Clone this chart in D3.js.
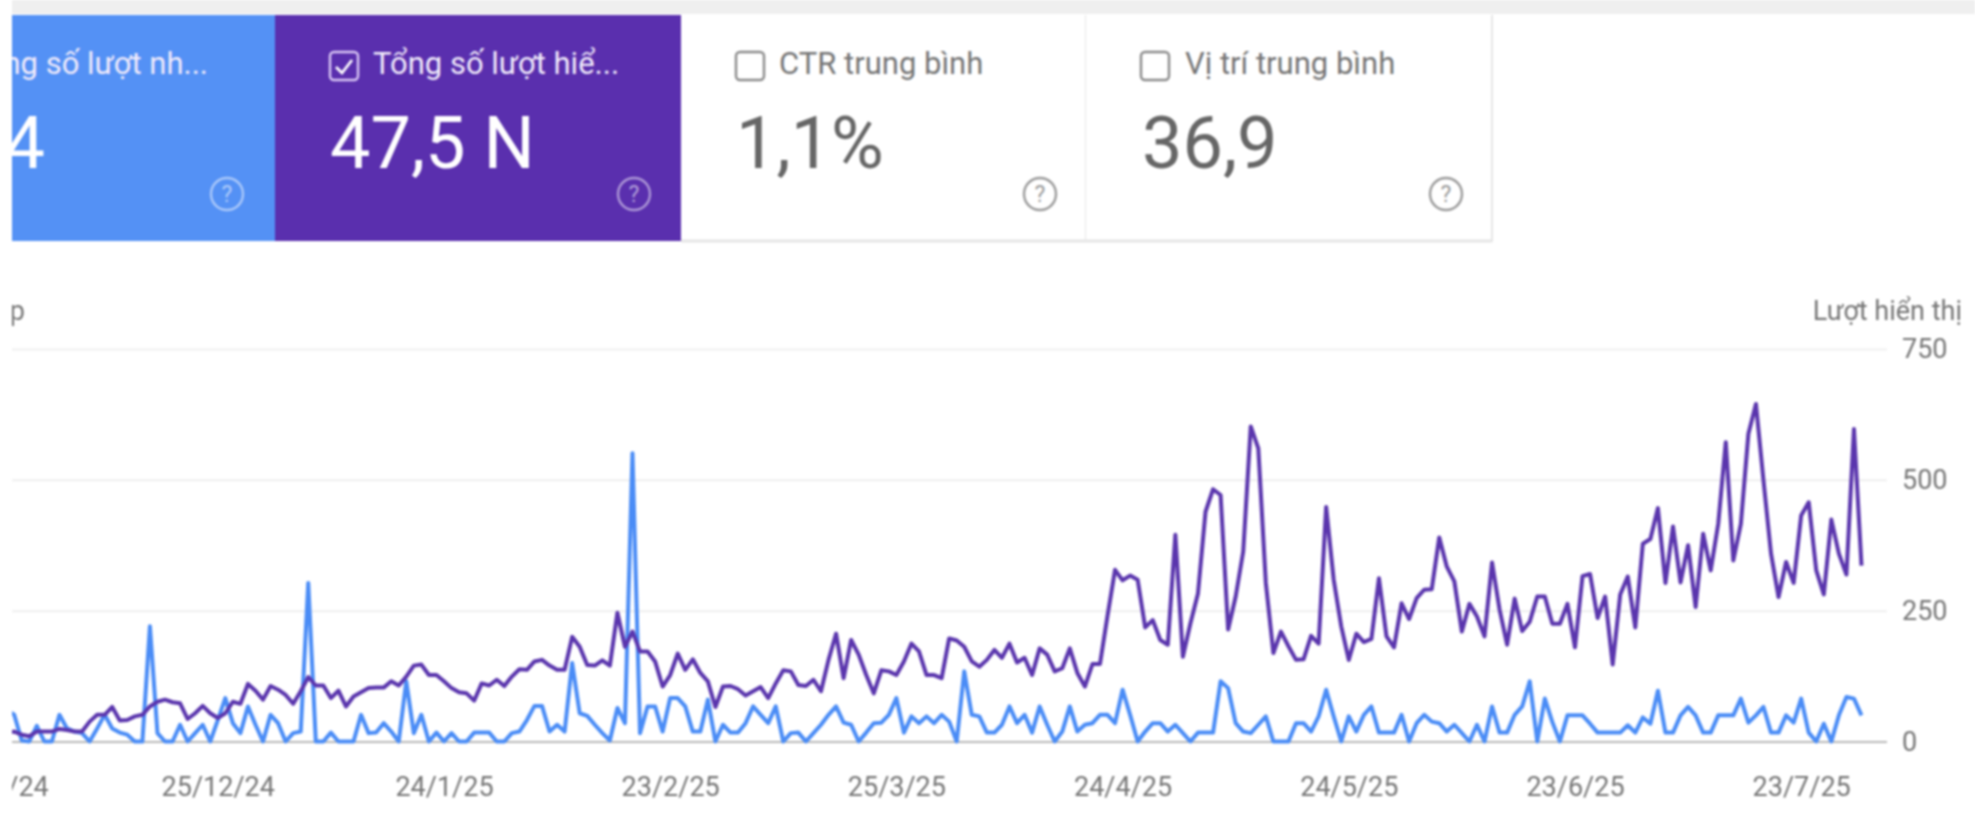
<!DOCTYPE html>
<html>
<head>
<meta charset="utf-8">
<script src="https://cdn.jsdelivr.net/npm/d3@7/dist/d3.min.js"></script>
<style>
html,body{margin:0;padding:0;background:#fff;overflow:hidden}
svg{display:block;font-family:Roboto,sans-serif;filter:blur(1px)}
</style>
</head>
<body>
<svg id="chart" width="1975" height="822"></svg>
<script>
const cardLabels = ["Tổng số lượt nh...", "Tổng số lượt hiể...", "CTR trung bình", "Vị trí trung bình"];
const cardValues = ["4", "47,5 N", "1,1%", "36,9"];
const cardChecked = [true, true, false, false];
const yTicks = [0, 250, 500, 750];
const xTickLabels = ["25/11/24","25/12/24","24/1/25","23/2/25","25/3/25","24/4/25","24/5/25","23/6/25","23/7/25"];
const firstDay = "27/11/24";
const rightAxisTitle = "Lượt hiển thị";
const leftAxisTitle = "Lượt nhấp";

const clicks = [
60,51,2,0,30,0,0,51,25,19,
16,0,25,51,25,17,13,0,0,220,
16,0,0,32,0,16,32,0,41,83,
35,16,67,32,0,51,35,0,16,19,
303,0,0,17,0,0,0,51,16,17,
35,19,0,115,16,51,0,17,0,16,
0,0,17,17,17,0,0,16,19,41,
68,68,19,32,19,150,54,49,32,16,
2,64,35,551,16,67,67,19,83,83,
67,19,19,80,0,32,17,17,35,67,
51,35,67,0,16,17,0,16,32,51,
67,36,32,0,17,35,36,51,83,17,
48,35,48,35,51,38,0,134,51,48,
17,17,32,67,35,51,17,67,32,0,
19,67,19,32,35,51,51,35,99,51,
0,19,35,35,19,32,16,0,17,17,
17,115,102,35,19,16,32,48,0,0,
0,35,35,19,48,99,48,0,48,19,
51,67,17,17,17,51,0,35,51,38,
35,19,32,16,0,32,0,67,17,17,
51,67,115,0,82,37,0,50,50,50,
34,17,17,17,17,31,17,46,34,97,
17,17,50,66,50,17,17,50,50,50,
82,36,50,66,17,17,50,36,82,17,
0,34,0,50,85,82,50];

const impressions = [
16,19,13,10,19,19,19,24,22,19,
19,38,51,51,66,40,41,48,51,67,
76,80,75,73,43,54,68,54,45,54,
76,72,110,97,80,106,99,89,72,96,
123,107,107,83,97,67,86,94,102,103,
103,115,107,124,145,147,127,127,115,102,
94,92,78,111,107,118,106,124,138,137,
153,156,145,137,137,200,181,146,145,155,
145,246,181,210,172,172,153,105,127,168,
137,157,131,115,66,105,106,100,88,96,
104,83,111,136,134,108,106,118,96,156,
206,121,194,166,127,92,136,134,127,153,
187,172,127,127,121,197,193,181,153,143,
156,175,160,187,151,160,127,178,166,134,
140,178,131,105,148,148,240,328,308,317,
309,218,232,194,185,395,162,226,283,439,
482,471,214,277,363,602,560,303,169,210,
182,156,157,202,187,448,309,220,156,206,
190,196,312,201,180,264,234,274,290,291,
390,334,306,210,263,239,201,342,252,185,
273,211,229,277,277,225,225,263,180,316,
320,236,277,147,281,315,218,378,387,446,
303,411,304,375,257,397,327,416,572,346,
416,588,645,499,359,276,343,303,432,457,
327,281,424,359,319,597,336];

const parseDay = d3.utcParse("%d/%m/%y");
const days = clicks.map((_, i) => d3.utcDay.offset(parseDay(firstDay), i));
const x = d3.scaleUtc().domain([days[0], days[days.length - 1]]).range([6.66, 1861.5]);
const y = d3.scaleLinear().domain([0, 750]).range([741.5, 349]);

const svg = d3.select("#chart");
const defs = svg.append("defs");
defs.append("clipPath").attr("id", "page").append("rect")
  .attr("x", 12).attr("y", 0).attr("width", 1963).attr("height", 822);

// top strip of the page behind the cards
svg.append("rect").attr("x", 0).attr("y", 0).attr("width", 1975).attr("height", 14).attr("fill", "#efefef");
svg.append("rect").attr("x", 0).attr("y", 0).attr("width", 12).attr("height", 822).attr("fill", "#fff");

const root = svg.append("g").attr("clip-path", "url(#page)");

// metric cards
const cardEdges = [-140, 275, 681, 1086, 1492];
const cardFill = ["#5491f5", "#5a2fae", "#fff", "#fff"];
const textX = [208, 373, 779, 1185];
const boxX = [-60, 330, 736, 1141];
const valX = [45, 330, 736, 1142];
const helpX = [227, 634, 1040, 1446];
const cards = root.append("g");
cardLabels.forEach((label, i) => {
  const on = cardChecked[i];
  const g = cards.append("g");
  g.append("rect").attr("x", cardEdges[i]).attr("y", 15)
    .attr("width", cardEdges[i + 1] - cardEdges[i]).attr("height", 226)
    .attr("fill", cardFill[i]);
  if (!on) {
    g.append("line").attr("x1", cardEdges[i]).attr("x2", cardEdges[i + 1])
      .attr("y1", 241).attr("y2", 241).attr("stroke", "#e6e6e6").attr("stroke-width", 3);
    g.append("line").attr("x1", cardEdges[i + 1]).attr("x2", cardEdges[i + 1])
      .attr("y1", 15).attr("y2", 242).attr("stroke", "#e6e6e6").attr("stroke-width", 2);
  }
  const box = g.append("g").attr("transform", `translate(${boxX[i]},52)`);
  box.append("rect").attr("width", 28).attr("height", 28).attr("rx", 4)
    .attr("fill", "none").attr("stroke", on ? "#d9c7f5" : "#8a8a8a").attr("stroke-width", 2.4);
  if (on) box.append("path").attr("d", "M6,15 L12,21 L22,8").attr("fill", "none")
    .attr("stroke", "#fff").attr("stroke-width", 2.8);
  g.append("text").attr("x", textX[i]).attr("y", 74)
    .attr("text-anchor", i === 0 ? "end" : "start")
    .attr("font-size", 31).attr("fill", on ? "#f1ebfb" : "#757575").text(label);
  g.append("text").attr("x", valX[i]).attr("y", 168)
    .attr("text-anchor", i === 0 ? "end" : "start")
    .attr("font-size", 72).attr("fill", on ? "#fff" : "#666666").text(cardValues[i]);
  const help = g.append("g").attr("transform", `translate(${helpX[i]},194)`);
  help.append("circle").attr("r", 16).attr("fill", "none")
    .attr("stroke", on ? "rgba(255,255,255,0.5)" : "#9a9a9a").attr("stroke-width", 2.4);
  help.append("text").attr("text-anchor", "middle").attr("y", 8).attr("font-size", 23)
    .attr("fill", on ? "rgba(255,255,255,0.55)" : "#9a9a9a").text("?");
});

// axis titles
root.append("text").attr("x", 25).attr("y", 320).attr("text-anchor", "end")
  .attr("font-size", 27).attr("fill", "#757575").text(leftAxisTitle);
root.append("text").attr("x", 1962).attr("y", 320).attr("text-anchor", "end")
  .attr("font-size", 27).attr("fill", "#757575").text(rightAxisTitle);

// y axis and grid
const yAxis = root.append("g").attr("transform", "translate(1887,0)")
  .call(d3.axisRight(y).tickValues(yTicks).tickSize(0).tickPadding(15));
yAxis.select(".domain").remove();
yAxis.selectAll("text").attr("font-family", "Roboto").attr("font-size", 27).attr("fill", "#757575");
yAxis.selectAll("line").attr("x1", -1875).attr("x2", 0)
  .attr("stroke", d => d === 0 ? "#a0a0a0" : "#efefef").attr("stroke-width", d => d === 0 ? 1.6 : 2);

// x axis
const xAxis = root.append("g").attr("transform", "translate(0,777)")
  .call(d3.axisBottom(x).tickValues(xTickLabels.map(parseDay))
    .tickFormat(d3.utcFormat("%-d/%-m/%y")).tickSize(0).tickPadding(0));
xAxis.select(".domain").remove();
xAxis.selectAll("text").attr("font-family", "Roboto").attr("font-size", 27).attr("fill", "#757575");

// series
const line = d3.line().x((d, i) => x(days[i])).y(d => y(d)).curve(d3.curveLinear);
root.append("path").datum(clicks).attr("d", line).attr("fill", "none")
  .attr("stroke", "#4a8cf6").attr("stroke-width", 4).attr("stroke-linejoin", "round");
root.append("path").datum(impressions).attr("d", line).attr("fill", "none")
  .attr("stroke", "#5a35ad").attr("stroke-width", 4).attr("stroke-linejoin", "round");
</script>
</body>
</html>
